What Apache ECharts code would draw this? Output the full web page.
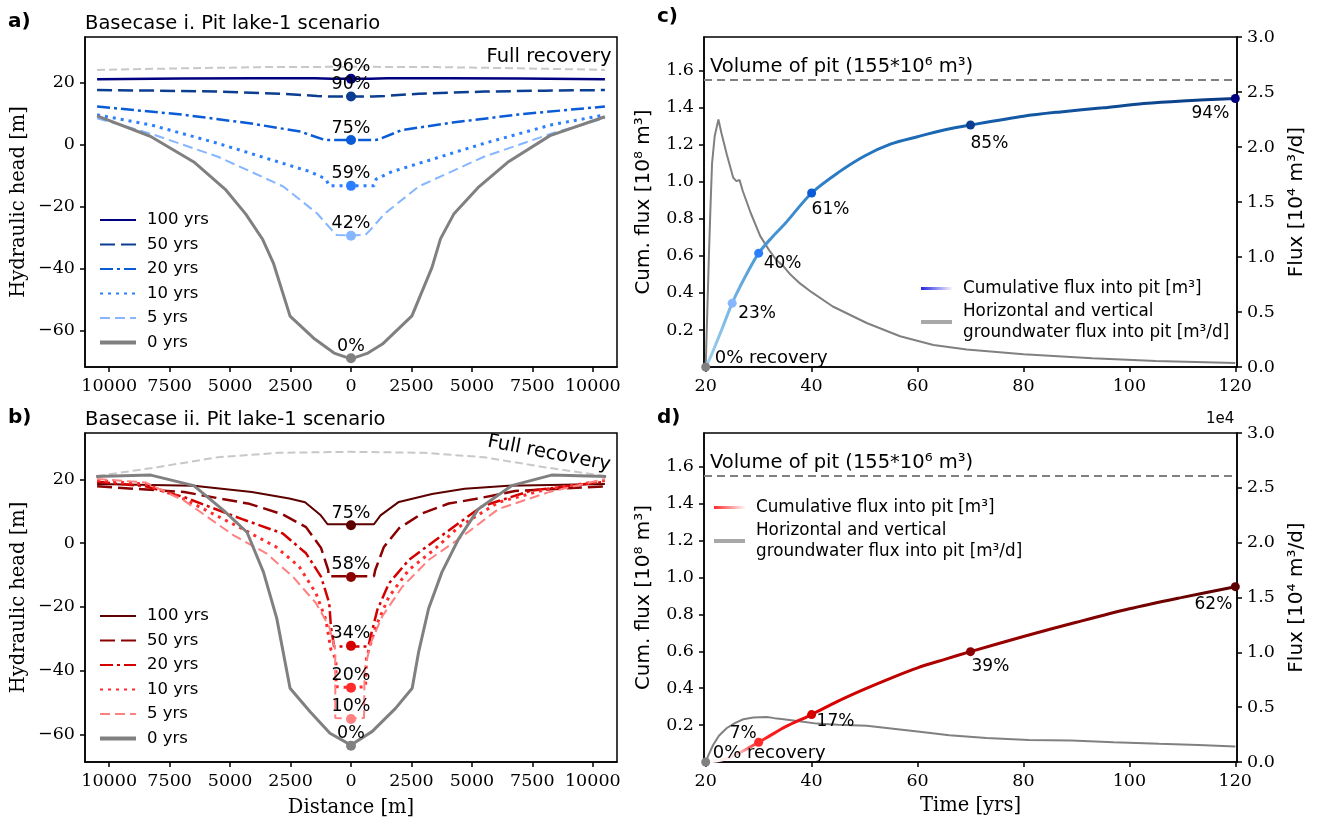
<!DOCTYPE html>
<html><head><meta charset="utf-8">
<script src="https://cdn.jsdelivr.net/npm/echarts@6/dist/echarts.min.js"></script>
<style>
html,body{margin:0;padding:0;background:#fff;width:1318px;height:820px;overflow:hidden}
.p{position:absolute;left:0;top:0;width:1318px;height:820px}
</style></head><body>
<div id="pa" class="p"></div><div id="pb" class="p"></div><div id="pc" class="p"></div><div id="pd" class="p"></div>
<script>
// ================= DATA =================
const distTicks = [-10000,-7500,-5000,-2500,0,2500,5000,7500,10000];
const headTicks = [-60,-40,-20,0,20];
const timeTicks = [20,40,60,80,100,120];
const cumTicks = [0.2,0.4,0.6,0.8,1.0,1.2,1.4,1.6];
const fluxTicks = [0,0.5,1.0,1.5,2.0,2.5,3.0];
const yearNames = ['100 yrs','50 yrs','20 yrs','10 yrs','5 yrs','0 yrs'];

// Panel a: Basecase i  [distance m, head m]
const fullA = [[-10500,24.0],[-7000,24.5],[-3500,24.9],[0,25.0],[3500,24.9],[7000,24.5],[10500,24.0]];
const a100 = [[-10500,21.0],[-7000,21.2],[-4000,21.3],[-1500,21.3],[-800,21.1],[0,21.1],[800,21.1],[1500,21.3],[4000,21.3],[7000,21.2],[10500,21.0]];
const a50 = [[-10500,17.5],[-8000,17.3],[-5500,17.0],[-2800,16.3],[-1400,15.6],[-900,15.4],[0,15.4],[900,15.4],[1400,15.6],[2800,16.3],[5500,17.0],[8000,17.3],[10500,17.5]];
const a20 = [[-10500,12.2],[-6900,9.5],[-4200,6.8],[-2100,4.1],[-1150,1.6],[-1000,1.4],[0,1.4],[1000,1.4],[1150,1.6],[2100,4.6],[4200,7.0],[6900,9.6],[10500,12.2]];
const a10 = [[-10500,9.5],[-8300,6.3],[-5500,0.3],[-3500,-4.5],[-1700,-8.8],[-1040,-11.2],[-900,-13.4],[0,-13.4],[950,-13.4],[1040,-11.2],[1700,-8.8],[3500,-4.5],[5500,0.3],[8300,6.3],[10500,9.5]];
const a5 = [[-10500,8.4],[-8300,3.5],[-5500,-4.0],[-2800,-13.6],[-1400,-22.3],[-800,-27.6],[-600,-29.2],[0,-29.4],[600,-29.2],[800,-27.6],[1400,-22.3],[2800,-13.6],[5500,-4.0],[8300,3.5],[10500,8.4]];
const a0 = [[-10500,9.2],[-8300,2.6],[-6500,-5.7],[-5200,-14.5],[-4350,-22.5],[-3650,-30.7],[-3200,-38.5],[-2520,-55.4],[-1500,-62.8],[-700,-67.3],[0,-69.2],[700,-67.3],[1300,-64.4],[2520,-55.3],[3350,-39.7],[3700,-30.5],[4250,-22.5],[5250,-14.0],[6480,-5.8],[8230,2.8],[10500,8.9]];
const pitHeadA = [21.1,15.4,1.4,-13.4,-29.5,-69.0];
const pctA = ['96%','90%','75%','59%','42%','0%'];

// Panel b: Basecase ii
const fullB = [[-10500,21.0],[-8000,23.8],[-5500,26.9],[-3000,28.3],[0,28.6],[3000,28.3],[5500,26.9],[8000,23.8],[10500,21.0]];
const b100 = [[-10500,18.5],[-6500,18.0],[-4100,16.0],[-2550,14.0],[-1900,12.8],[-1250,8.7],[-970,5.9],[0,5.9],[950,5.9],[1220,8.7],[1980,12.9],[3350,15.4],[4700,17.0],[6500,18.0],[10500,18.5]];
const b50 = [[-10500,17.8],[-6900,16.0],[-4200,12.3],[-2820,9.0],[-1860,5.0],[-1240,-1.5],[-940,-8.5],[-930,-10.4],[0,-10.4],[950,-10.4],[1000,-8.5],[1360,-1.2],[1980,4.6],[2940,9.3],[4040,12.4],[5130,13.8],[6780,16.3],[10500,17.8]];
const b20 = [[-10500,19.2],[-8500,17.8],[-6900,14.4],[-4500,7.5],[-2820,3.0],[-1860,-3.2],[-1240,-10.5],[-900,-18.8],[-830,-26.2],[-700,-32.4],[0,-32.4],[720,-32.4],[810,-29.3],[1090,-20.9],[1570,-12.6],[2390,-5.3],[3490,0.9],[5410,11.5],[7470,16.5],[10500,19.2]];
const b10 = [[-10500,19.6],[-8500,18.5],[-6900,13.8],[-4500,4.5],[-3100,-1.2],[-2140,-7.4],[-1450,-15.7],[-1040,-24.0],[-830,-33.4],[-620,-36.5],[-620,-45.0],[0,-45.3],[600,-45.0],[640,-36.0],[1020,-26.2],[1570,-16.8],[2390,-8.4],[3490,-1.7],[4450,5.0],[6100,12.8],[8150,17.0],[10500,19.6]];
const b5 = [[-10500,20.1],[-8500,19.0],[-6900,13.3],[-4850,2.4],[-3500,-3.2],[-2410,-10.5],[-1450,-18.8],[-900,-26.2],[-650,-33.4],[-650,-54.8],[0,-55.0],[540,-54.8],[560,-40.0],[810,-31.4],[1290,-23.0],[2120,-13.7],[3210,-5.3],[4500,1.5],[6100,10.7],[8150,15.9],[10500,20.1]];
const b0 = [[-10540,20.9],[-8280,21.3],[-6500,18.0],[-5260,10.2],[-4300,3.4],[-3620,-9.1],[-3070,-23.6],[-2520,-45.5],[-1700,-52.8],[-870,-59.6],[0,-63.3],[880,-59.0],[1840,-51.8],[2530,-45.5],[2800,-34.0],[3210,-20.5],[3760,-9.1],[4450,1.3],[5270,10.7],[6640,18.0],[8290,21.3],[10550,20.9]];
const pitHeadB = [5.6,-10.6,-32.2,-45.3,-55.1,-63.5];
const pctB = ['75%','58%','34%','20%','10%','0%'];

// Panel c: cumulative (1e8 m3) and flux (1e4 m3/d) vs time (yrs)
const pitVolume = 1.55;
const cumC = [[20,0],[21,0.06],[22,0.13],[23,0.2],[25,0.345],[27.5,0.49],[30,0.615],[32.5,0.70],[35,0.775],[40,0.94],[45,1.05],[50,1.14],[55,1.205],[60,1.244],[65,1.28],[70,1.307],[80,1.355],[87,1.378],[95,1.40],[102.7,1.423],[110,1.437],[120,1.45]];
const fluxC = [[20,0],[20.3,0.5],[20.6,1.0],[20.9,1.45],[21.2,1.85],[21.7,2.1],[22.4,2.25],[23,2.12],[24,1.93],[25.2,1.72],[25.8,1.69],[26.4,1.70],[27,1.6],[28.5,1.4],[30.3,1.19],[32,1.06],[33.4,0.97],[34.7,0.915],[36,0.84],[37.8,0.76],[40,0.68],[44,0.55],[50.4,0.40],[56.7,0.28],[63,0.20],[69.3,0.16],[80,0.115],[93,0.08],[105,0.055],[120,0.036]];
const markTimeC = [20,25,30,40,70,120];
const markCumC = [0,0.345,0.615,0.94,1.307,1.45];
const pctC = ['0% recovery','23%','40%','61%','85%','94%'];

// Panel d
const cumD = [[20,0],[22,0.005],[24,0.02],[26,0.045],[28,0.075],[30,0.107],[32,0.14],[35,0.19],[40,0.257],[45,0.33],[50,0.395],[55,0.455],[60,0.51],[65,0.555],[70,0.598],[80,0.68],[90,0.757],[100,0.83],[110,0.892],[120,0.95]];
const fluxD = [[20,0],[20.5,0.06],[21.4,0.155],[22.5,0.24],[24,0.31],[25.5,0.355],[27.1,0.39],[29,0.405],[31.5,0.41],[33,0.40],[34.7,0.39],[38,0.37],[41,0.35],[45,0.34],[50.4,0.33],[55,0.305],[60,0.278],[66,0.245],[73,0.218],[81,0.2],[89,0.196],[97,0.18],[105.6,0.166],[113,0.155],[120,0.142]];
const markTimeD = [20,30,40,70,120];
const markCumD = [0,0.107,0.257,0.598,0.95];
const pctD = ['0% recovery','7%','17%','39%','62%'];

// ================= STYLE =================
const SERIF = 'DejaVu Serif', SANS = 'DejaVu Sans';
const blues = ['#000080','#0b3d91','#0a5bd6','#2b7fff','#85b6ff','#808080'];
const reds = ['#5c0000','#8b0000','#d40000','#ff2a2a','#ff8080','#808080'];
const dashes = ['solid',[15,6],[13,4,3,4],[3,5],[10,5],'solid'];
const widthsA = [2.5,2.5,2.5,3,2,3];
const widthsB = [2,2.5,2.5,3,2,3];
const fmtTick = v => (v < 0 ? '\u2212' + Math.abs(v) : String(v));
const plainLabel = {color:'#000',textBorderWidth:0,textBorderColor:'transparent',textShadowBlur:0,opacity:1};
const hiddenSymbol = {color:'rgba(0,0,0,0)',borderWidth:0,opacity:0};

function axisBase(ticks, fmt){
  return {
    type:'value',
    axisLine:{show:true,onZero:false,lineStyle:{color:'#000',width:1.5}},
    axisTick:{show:true,length:5,lineStyle:{color:'#000',width:1.5},customValues:ticks},
    axisLabel:{customValues:ticks,formatter:fmt,color:'#000',fontFamily:SERIF,fontSize:17.5,margin:10},
    splitLine:{show:false},
    nameLocation:'middle',
    nameTextStyle:{fontFamily:SERIF,fontSize:19.5,color:'#000'}
  };
}
function txt(text, left, top, size, bold){
  return {text, left, top, padding:0, textStyle:{fontFamily:SANS,fontSize:size,fontWeight:bold?'bold':'normal',color:'#000',lineHeight:size+4}};
}

function profileOption(p){
  const series = [];
  series.push({type:'line',name:'full',data:p.full,symbol:'none',silent:true,z:1,
    lineStyle:{color:'#c8c8c8',width:2,type:[8,4]}});
  p.lines.forEach((d,i)=>series.push({type:'line',name:yearNames[i],data:d,symbol:'none',z:2+i,
    lineStyle:{color:p.colors[i],width:p.widths[i],type:dashes[i],cap:'butt'}}));
  series.push({type:'scatter',symbolSize:10,z:20,silent:true,
    data:p.pitHead.map((v,i)=>({value:[0,v],itemStyle:{color:p.colors[i],opacity:1},label:{formatter:p.pct[i]}})),
    label:Object.assign({show:true,position:'inside',offset:[0,-12],fontFamily:SANS,fontSize:17.5},plainLabel)});
  series.push({type:'scatter',symbolSize:1,z:21,silent:true,itemStyle:{color:'rgba(0,0,0,0)'},
    data:[{value:p.fullPos,label:Object.assign({show:true,formatter:'Full recovery',position:'inside',rotate:p.fullRot,
      fontFamily:SANS,fontSize:19.5},plainLabel)}]});
  const x = axisBase(distTicks, v=>String(Math.abs(v)));
  Object.assign(x,{min:-11000,max:11000,name:p.xName,nameGap:36});
  const y = axisBase(headTicks, fmtTick);
  Object.assign(y,{min:p.ymin,max:p.ymax,name:'Hydraulic head [m]',nameGap:56});
  return {
    animation:false,
    title:[txt(p.letter,8,p.top-27,20,true), txt(p.title,85,p.top-25,19.5,false)],
    grid:{left:85,top:p.top,width:532,height:p.h,show:true,borderColor:'#000',borderWidth:1.5,containLabel:false},
    xAxis:x, yAxis:y,
    legend:{orient:'vertical',left:98,top:p.legTop,padding:0,itemWidth:36,itemHeight:14,itemGap:4.5,
      itemStyle:hiddenSymbol,
      data:yearNames.map((n,i)=>i===5?{name:n,lineStyle:{width:4}}:{name:n}),
      textStyle:{fontFamily:SANS,fontSize:16.5,color:'#000',lineHeight:20,padding:[0,0,0,6]}},
    series
  };
}

function recoveryOption(p){
  const series = [];
  series.push({type:'line',name:'vol',data:[[19.68,pitVolume],[120.32,pitVolume]],symbol:'none',silent:true,z:1,
    lineStyle:{color:'#808080',width:2,type:[8,5]}});
  series.push({type:'line',name:'flux',yAxisIndex:1,data:p.flux,symbol:'none',z:2,
    lineStyle:{color:'#808080',width:2}});
  series.push({type:'line',name:'cum',yAxisIndex:0,data:p.cum,symbol:'none',smooth:0.3,z:3,
    lineStyle:{width:3,color:new echarts.graphic.LinearGradient(0,0,1,0,p.grad)}});
  series.push({type:'scatter',symbolSize:9,z:20,silent:true,
    data:p.mt.map((t,i)=>({value:[t,p.mc[i]],itemStyle:{color:p.mcol[i],opacity:1},
      label:{formatter:p.pct[i],align:p.lab[i][0],offset:[p.lab[i][1],p.lab[i][2]],fontSize:p.lab[i][3]}})),
    label:Object.assign({show:true,position:'inside',fontFamily:SANS,verticalAlign:'middle'},plainLabel)});
  series.push({type:'scatter',symbolSize:1,z:21,silent:true,itemStyle:{color:'rgba(0,0,0,0)'},
    data:[{value:[20.8,pitVolume],label:Object.assign({show:true,formatter:'Volume of pit (155*10\u2076 m\u00b3)',position:'inside',
      align:'left',verticalAlign:'bottom',offset:[0,-3],fontFamily:SANS,fontSize:19.5},plainLabel)}]});
  const x = axisBase(timeTicks, v=>String(v));
  Object.assign(x,{min:19.68,max:120.32,name:p.xName,nameGap:34});
  const y0 = axisBase(cumTicks, v=>v.toFixed(1));
  Object.assign(y0,{min:0,max:1.7825,name:'Cum. flux [10\u2078 m\u00b3]',nameGap:50,nameRotate:90});
  y0.nameTextStyle = {fontFamily:SANS,fontSize:20,color:'#000'};
  const y1 = axisBase(fluxTicks, v=>v.toFixed(1));
  Object.assign(y1,{min:0,max:3,position:'right',name:'Flux [10\u2074 m\u00b3/d]',nameGap:50,nameRotate:90});
  y1.nameTextStyle = {fontFamily:SANS,fontSize:20,color:'#000'};
  const names = {cum:'Cumulative flux into pit [m\u00b3]', flux:'Horizontal and vertical\ngroundwater flux into pit [m\u00b3/d]'};
  const opt = {
    animation:false,
    title:[txt(p.letter,657,p.top-27-(p.letter==='c)'?5:0),20,true)],
    grid:{left:704,top:p.top,width:533,height:p.h,show:true,borderColor:'#000',borderWidth:1.5},
    xAxis:x, yAxis:[y0,y1],
    legend:{orient:'vertical',left:p.legLeft,top:p.legTop,padding:0,itemWidth:31,itemHeight:14,itemGap:2,
      itemStyle:hiddenSymbol,
      data:[{name:'cum',lineStyle:{width:3,color:new echarts.graphic.LinearGradient(0,0,1,0,[{offset:0,color:p.legCol},{offset:1,color:'#ffffff'}])}},
            {name:'flux',lineStyle:{width:4,color:'#a8a8a8'}}],
      formatter:n=>names[n],
      textStyle:{fontFamily:SANS,fontSize:16.8,color:'#000',lineHeight:21,padding:[0,0,0,6]}},
    series
  };
  if (p.offsetText) opt.graphic = [{type:'text',left:1206,top:p.top-21,style:{text:'1e4',font:'15px "DejaVu Sans"',fill:'#000'}}];
  return opt;
}

// ================= BUILD =================
const optA = profileOption({letter:'a)',title:'Basecase i. Pit lake-1 scenario',top:37,h:330,
  ymin:-71.8,ymax:34.6,xName:'',full:fullA,lines:[a100,a50,a20,a10,a5,a0],colors:blues,widths:widthsA,
  pitHead:pitHeadA,pct:pctA,fullPos:[8190,28.3],fullRot:0,legTop:210});
const optB = profileOption({letter:'b)',title:'Basecase ii. Pit lake-1 scenario',top:433,h:329,
  ymin:-68.6,ymax:34.5,xName:'Distance [m]',full:fullB,lines:[b100,b50,b20,b10,b5,b0],colors:reds,widths:widthsB,
  pitHead:pitHeadB,pct:pctB,fullPos:[8190,28.1],fullRot:-11,legTop:606});

const labC = [['left',9,-9,18],['left',6,10,17],['left',5,10,17],['left',0,17,17],['left',0,19,17],['right',-6,15,17]];
const labD = [['left',7,-9,18],['right',-2,-9,17],['left',5,7,17],['left',1,15,17],['right',-3,18,17]];
const optC = recoveryOption({letter:'c)',top:37,h:330,xName:'',cum:cumC,flux:fluxC,
  grad:[{offset:0,color:'#a8d4f0'},{offset:0.1,color:'#4a9ad8'},{offset:0.25,color:'#2a7ac4'},{offset:0.5,color:'#1560ac'},{offset:1,color:'#0a3a82'}],
  mt:markTimeC,mc:markCumC,pct:pctC,mcol:['#808080',blues[4],blues[3],blues[2],blues[1],blues[0]],lab:labC,
  legLeft:919,legTop:278,legCol:'#1a1ae0',offsetText:false});
const optD = recoveryOption({letter:'d)',top:433,h:329,xName:'Time [yrs]',cum:cumD,flux:fluxD,
  grad:[{offset:0,color:'#ffffff'},{offset:0.06,color:'#ffe0e0'},{offset:0.09,color:'#ff5050'},{offset:0.12,color:'#ff2020'},{offset:0.22,color:'#dd0000'},{offset:0.5,color:'#a00000'},{offset:1,color:'#5c0000'}],
  mt:markTimeD,mc:markCumD,pct:pctD,mcol:['#808080',reds[3],reds[2],reds[1],reds[0]],lab:labD,
  legLeft:712,legTop:497,legCol:'#ff2020',offsetText:true});

echarts.init(document.getElementById('pa')).setOption(optA);
echarts.init(document.getElementById('pb')).setOption(optB);
echarts.init(document.getElementById('pc')).setOption(optC);
echarts.init(document.getElementById('pd')).setOption(optD);
</script></body></html>
